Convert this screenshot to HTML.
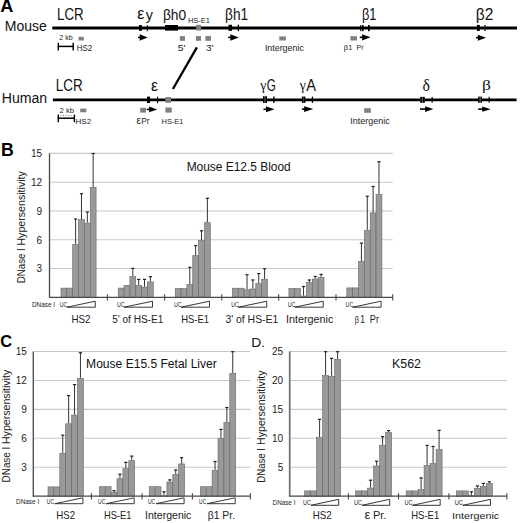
<!DOCTYPE html><html><head><meta charset="utf-8"><style>html,body{margin:0;padding:0;background:#fff;}svg{display:block;}text{font-family:"Liberation Sans",sans-serif;}</style></head><body>
<svg width="520" height="523" viewBox="0 0 520 523">
<rect width="520" height="523" fill="#fff"/>
<text x="0.15" y="12.40" font-size="18.41" font-weight="bold" fill="#000" textLength="13.04" lengthAdjust="spacingAndGlyphs">A</text>
<text x="4.68" y="31.30" font-size="14.49" fill="#111" textLength="42.18" lengthAdjust="spacingAndGlyphs">Mouse</text>
<line x1="52.30" y1="28.00" x2="517.00" y2="28.00" stroke="#000" stroke-width="2.8"/>
<text x="57.03" y="19.70" font-size="16.14" fill="#111" textLength="26.67" lengthAdjust="spacingAndGlyphs">LCR</text>
<text x="59.25" y="40.10" font-size="6.90" fill="#222" textLength="13.34" lengthAdjust="spacingAndGlyphs">2 kb</text>
<rect x="78.50" y="36.80" width="5.30" height="3.70" fill="#808080"/>
<line x1="57.70" y1="46.40" x2="73.80" y2="46.40" stroke="#000" stroke-width="1.5"/>
<line x1="58.30" y1="42.70" x2="58.30" y2="50.40" stroke="#000" stroke-width="1.4"/>
<line x1="73.20" y1="42.70" x2="73.20" y2="50.40" stroke="#000" stroke-width="1.4"/>
<text x="76.87" y="50.60" font-size="8.43" fill="#222" textLength="15.43" lengthAdjust="spacingAndGlyphs">HS2</text>
<text transform="translate(137.36,18.84) scale(0.15816,0.15693)" font-size="100" fill="#111">ε</text>
<text transform="translate(145.76,19.55) scale(0.14343,0.14674)" font-size="100" fill="#111">y</text>
<rect x="139.00" y="25.00" width="2.80" height="5.80" fill="#000"/>
<rect x="146.80" y="25.00" width="1.00" height="6.30" fill="#000"/>
<line x1="138.00" y1="37.50" x2="140.60" y2="37.50" stroke="#000" stroke-width="1.6"/>
<path d="M139.60,34.25 L147.70,37.50 L139.60,40.75 L139.90,37.50 Z" fill="#000"/>
<text x="162.93" y="19.60" font-size="13.93" fill="#111" textLength="23.28" lengthAdjust="spacingAndGlyphs">βh0</text>
<rect x="165.00" y="25.00" width="13.00" height="5.60" fill="#000"/>
<text x="187.90" y="22.50" font-size="7.14" fill="#222" textLength="22.04" lengthAdjust="spacingAndGlyphs">HS-E1</text>
<rect x="196.20" y="24.80" width="4.80" height="5.70" fill="#808080"/>
<rect x="179.80" y="36.10" width="5.20" height="4.70" fill="#808080"/>
<rect x="195.90" y="36.10" width="5.10" height="4.70" fill="#808080"/>
<rect x="205.40" y="36.10" width="5.60" height="4.70" fill="#808080"/>
<text x="177.78" y="50.50" font-size="8.70" fill="#222" textLength="7.76" lengthAdjust="spacingAndGlyphs">5'</text>
<text x="206.10" y="50.50" font-size="8.57" fill="#222" textLength="7.53" lengthAdjust="spacingAndGlyphs">3'</text>
<text x="225.05" y="19.60" font-size="15.59" fill="#111" textLength="23.00" lengthAdjust="spacingAndGlyphs">βh1</text>
<rect x="228.50" y="24.80" width="3.50" height="6.00" fill="#000"/>
<rect x="237.70" y="24.60" width="1.30" height="6.60" fill="#000"/>
<line x1="228.20" y1="37.40" x2="231.20" y2="37.40" stroke="#000" stroke-width="1.6"/>
<path d="M230.20,34.15 L238.90,37.40 L230.20,40.65 L230.50,37.40 Z" fill="#000"/>
<rect x="279.30" y="36.40" width="6.60" height="4.10" fill="#808080"/>
<text x="264.90" y="50.70" font-size="8.55" fill="#222" textLength="38.93" lengthAdjust="spacingAndGlyphs">Intergenic</text>
<text x="361.90" y="19.70" font-size="16.28" fill="#111" textLength="14.49" lengthAdjust="spacingAndGlyphs">β1</text>
<rect x="360.20" y="25.00" width="0.80" height="6.20" fill="#000"/>
<rect x="361.70" y="25.00" width="1.90" height="6.20" fill="#000"/>
<rect x="368.00" y="25.00" width="1.70" height="6.20" fill="#000"/>
<line x1="359.80" y1="37.30" x2="363.00" y2="37.30" stroke="#000" stroke-width="1.6"/>
<path d="M362.00,34.15 L370.50,37.30 L362.00,40.45 L362.30,37.30 Z" fill="#000"/>
<rect x="350.40" y="36.20" width="6.60" height="4.30" fill="#808080"/>
<text x="343.76" y="50.30" font-size="7.03" fill="#222" textLength="8.69" lengthAdjust="spacingAndGlyphs">β1</text>
<text x="356.43" y="50.30" font-size="6.67" fill="#222" textLength="7.11" lengthAdjust="spacingAndGlyphs">Pr</text>
<text x="475.71" y="19.70" font-size="15.86" fill="#111" textLength="17.59" lengthAdjust="spacingAndGlyphs">β2</text>
<rect x="476.90" y="24.90" width="2.90" height="6.00" fill="#000"/>
<rect x="484.30" y="24.90" width="1.40" height="6.10" fill="#222"/>
<line x1="476.00" y1="37.70" x2="478.70" y2="37.70" stroke="#000" stroke-width="1.6"/>
<path d="M477.70,34.65 L486.10,37.70 L477.70,40.75 L478.00,37.70 Z" fill="#000"/>
<line x1="196.90" y1="47.40" x2="172.90" y2="89.00" stroke="#000" stroke-width="2.3"/>
<text x="1.77" y="103.20" font-size="14.35" fill="#111" textLength="45.43" lengthAdjust="spacingAndGlyphs">Human</text>
<line x1="52.90" y1="99.80" x2="516.60" y2="99.80" stroke="#000" stroke-width="2.8"/>
<text x="55.82" y="90.70" font-size="15.86" fill="#111" textLength="26.89" lengthAdjust="spacingAndGlyphs">LCR</text>
<text x="59.62" y="112.50" font-size="6.90" fill="#222" textLength="14.49" lengthAdjust="spacingAndGlyphs">2 kb</text>
<rect x="80.20" y="108.60" width="6.10" height="3.70" fill="#808080"/>
<line x1="60.40" y1="115.50" x2="73.20" y2="115.50" stroke="#666" stroke-width="0.9" stroke-dasharray="1,1.6"/>
<line x1="57.70" y1="118.20" x2="75.00" y2="118.20" stroke="#000" stroke-width="1.5"/>
<line x1="58.30" y1="114.60" x2="58.30" y2="122.30" stroke="#000" stroke-width="1.4"/>
<line x1="74.40" y1="114.60" x2="74.40" y2="122.30" stroke="#000" stroke-width="1.4"/>
<text x="75.56" y="123.60" font-size="7.71" fill="#222" textLength="15.65" lengthAdjust="spacingAndGlyphs">HS2</text>
<text transform="translate(150.96,90.74) scale(0.15816,0.15693)" font-size="100" fill="#111">ε</text>
<rect x="147.00" y="96.60" width="3.00" height="6.40" fill="#000"/>
<rect x="157.00" y="96.70" width="1.10" height="6.50" fill="#000"/>
<rect x="165.40" y="97.00" width="5.60" height="5.80" fill="#808080"/>
<rect x="140.20" y="107.80" width="5.80" height="4.80" fill="#808080"/>
<rect x="165.40" y="107.50" width="6.40" height="5.10" fill="#808080"/>
<line x1="146.80" y1="109.40" x2="150.00" y2="109.40" stroke="#000" stroke-width="1.6"/>
<path d="M149.00,106.45 L157.30,109.40 L149.00,112.35 L149.30,109.40 Z" fill="#000"/>
<text transform="translate(136.56,123.89) scale(0.09949,0.10584)" font-size="100" fill="#222">ε</text>
<text x="141.34" y="123.90" font-size="8.26" fill="#222" textLength="8.22" lengthAdjust="spacingAndGlyphs">Pr</text>
<text x="161.50" y="123.80" font-size="8.00" fill="#222" textLength="21.93" lengthAdjust="spacingAndGlyphs">HS-E1</text>
<text transform="translate(260.21,90.47) scale(0.13810,0.15179)" font-size="100" style='font-family:"Liberation Serif", serif' fill="#111">γ</text>
<text transform="translate(266.82,90.73) scale(0.11639,0.16525)" font-size="100" fill="#111">G</text>
<rect x="263.00" y="96.50" width="4.00" height="6.30" fill="#555"/>
<rect x="263.00" y="96.30" width="1.40" height="6.60" fill="#000"/>
<rect x="265.50" y="96.30" width="1.50" height="6.60" fill="#000"/>
<rect x="273.20" y="96.40" width="1.40" height="6.50" fill="#000"/>
<line x1="263.50" y1="109.30" x2="266.90" y2="109.30" stroke="#000" stroke-width="1.6"/>
<path d="M265.90,106.25 L274.50,109.30 L265.90,112.35 L266.20,109.30 Z" fill="#000"/>
<text transform="translate(299.81,90.42) scale(0.13571,0.13988)" font-size="100" style='font-family:"Liberation Serif", serif' fill="#111">γ</text>
<text transform="translate(306.17,90.70) scale(0.14630,0.15843)" font-size="100" fill="#111">A</text>
<rect x="302.00" y="96.70" width="3.30" height="6.00" fill="#666"/>
<rect x="301.90" y="96.60" width="1.40" height="6.20" fill="#000"/>
<rect x="303.80" y="96.60" width="1.50" height="6.20" fill="#000"/>
<rect x="311.80" y="96.60" width="1.30" height="6.20" fill="#000"/>
<line x1="302.00" y1="109.10" x2="305.00" y2="109.10" stroke="#000" stroke-width="1.6"/>
<path d="M304.00,106.15 L313.30,109.10 L304.00,112.05 L304.30,109.10 Z" fill="#000"/>
<rect x="364.20" y="108.20" width="6.60" height="4.60" fill="#808080"/>
<text x="350.29" y="123.60" font-size="8.14" fill="#222" textLength="39.35" lengthAdjust="spacingAndGlyphs">Intergenic</text>
<text transform="translate(422.60,90.94) scale(0.15909,0.15656)" font-size="100" style='font-family:"Liberation Serif", serif' fill="#111">δ</text>
<rect x="420.30" y="96.90" width="4.40" height="5.80" fill="#666"/>
<rect x="420.30" y="96.90" width="1.60" height="5.80" fill="#000"/>
<rect x="422.90" y="96.90" width="1.80" height="5.80" fill="#000"/>
<rect x="431.60" y="96.90" width="1.10" height="5.80" fill="#000"/>
<line x1="420.00" y1="109.10" x2="426.00" y2="109.10" stroke="#000" stroke-width="1.6"/>
<path d="M425.00,106.30 L433.40,109.10 L425.00,111.90 L425.30,109.10 Z" fill="#000"/>
<text transform="translate(481.89,90.07) scale(0.17413,0.13740)" font-size="100" style='font-family:"Liberation Serif", serif' fill="#111">β</text>
<rect x="478.20" y="96.70" width="3.70" height="6.00" fill="#666"/>
<rect x="478.20" y="96.70" width="1.30" height="6.00" fill="#000"/>
<rect x="480.70" y="96.70" width="1.20" height="6.00" fill="#000"/>
<rect x="488.60" y="96.70" width="1.10" height="6.00" fill="#000"/>
<line x1="478.20" y1="109.15" x2="483.10" y2="109.15" stroke="#000" stroke-width="1.6"/>
<path d="M482.10,106.45 L490.70,109.15 L482.10,111.85 L482.40,109.15 Z" fill="#000"/>
<text x="0.95" y="156.00" font-size="17.54" font-weight="bold" fill="#000" textLength="12.79" lengthAdjust="spacingAndGlyphs">B</text>
<line x1="49.50" y1="268.52" x2="392.70" y2="268.52" stroke="#c8c8c8" stroke-width="1.1"/>
<line x1="49.50" y1="239.74" x2="392.70" y2="239.74" stroke="#c8c8c8" stroke-width="1.1"/>
<line x1="49.50" y1="210.96" x2="392.70" y2="210.96" stroke="#c8c8c8" stroke-width="1.1"/>
<line x1="49.50" y1="182.18" x2="392.70" y2="182.18" stroke="#c8c8c8" stroke-width="1.1"/>
<line x1="49.50" y1="153.40" x2="392.70" y2="153.40" stroke="#c8c8c8" stroke-width="1.1"/>
<rect x="61.00" y="288.10" width="5.85" height="9.20" fill="#999999" stroke="#666666" stroke-width="0.6"/>
<rect x="66.85" y="288.10" width="5.85" height="9.20" fill="#999999" stroke="#666666" stroke-width="0.6"/>
<rect x="72.70" y="244.40" width="5.85" height="52.90" fill="#999999" stroke="#666666" stroke-width="0.6"/>
<rect x="78.55" y="219.60" width="5.85" height="77.70" fill="#999999" stroke="#666666" stroke-width="0.6"/>
<rect x="84.40" y="223.10" width="5.85" height="74.20" fill="#999999" stroke="#666666" stroke-width="0.6"/>
<rect x="90.25" y="187.30" width="5.85" height="110.00" fill="#999999" stroke="#666666" stroke-width="0.6"/>
<line x1="75.62" y1="244.00" x2="75.62" y2="218.80" stroke="#333" stroke-width="1.0"/>
<line x1="74.03" y1="219.00" x2="77.22" y2="219.00" stroke="#222" stroke-width="1.2"/>
<line x1="81.47" y1="219.20" x2="81.47" y2="193.50" stroke="#333" stroke-width="1.0"/>
<line x1="79.88" y1="193.70" x2="83.07" y2="193.70" stroke="#222" stroke-width="1.2"/>
<line x1="87.33" y1="222.70" x2="87.33" y2="211.90" stroke="#333" stroke-width="1.0"/>
<line x1="85.73" y1="212.10" x2="88.92" y2="212.10" stroke="#222" stroke-width="1.2"/>
<line x1="93.17" y1="186.90" x2="93.17" y2="153.30" stroke="#333" stroke-width="1.0"/>
<line x1="91.58" y1="153.50" x2="94.77" y2="153.50" stroke="#222" stroke-width="1.2"/>
<rect x="118.20" y="288.10" width="5.85" height="9.20" fill="#999999" stroke="#666666" stroke-width="0.6"/>
<rect x="124.05" y="285.40" width="5.85" height="11.90" fill="#999999" stroke="#666666" stroke-width="0.6"/>
<rect x="129.90" y="276.60" width="5.85" height="20.70" fill="#999999" stroke="#666666" stroke-width="0.6"/>
<rect x="135.75" y="285.40" width="5.85" height="11.90" fill="#999999" stroke="#666666" stroke-width="0.6"/>
<rect x="141.60" y="287.00" width="5.85" height="10.30" fill="#999999" stroke="#666666" stroke-width="0.6"/>
<rect x="147.45" y="281.90" width="5.85" height="15.40" fill="#999999" stroke="#666666" stroke-width="0.6"/>
<line x1="132.83" y1="276.20" x2="132.83" y2="268.20" stroke="#333" stroke-width="1.0"/>
<line x1="131.23" y1="268.40" x2="134.43" y2="268.40" stroke="#222" stroke-width="1.2"/>
<line x1="138.68" y1="285.00" x2="138.68" y2="279.20" stroke="#333" stroke-width="1.0"/>
<line x1="137.08" y1="279.40" x2="140.28" y2="279.40" stroke="#222" stroke-width="1.2"/>
<line x1="144.53" y1="286.60" x2="144.53" y2="279.20" stroke="#333" stroke-width="1.0"/>
<line x1="142.93" y1="279.40" x2="146.12" y2="279.40" stroke="#222" stroke-width="1.2"/>
<line x1="150.38" y1="281.50" x2="150.38" y2="276.50" stroke="#333" stroke-width="1.0"/>
<line x1="148.78" y1="276.70" x2="151.97" y2="276.70" stroke="#222" stroke-width="1.2"/>
<rect x="175.20" y="288.60" width="5.85" height="8.70" fill="#999999" stroke="#666666" stroke-width="0.6"/>
<rect x="181.05" y="288.60" width="5.85" height="8.70" fill="#999999" stroke="#666666" stroke-width="0.6"/>
<rect x="186.90" y="284.40" width="5.85" height="12.90" fill="#999999" stroke="#666666" stroke-width="0.6"/>
<rect x="192.75" y="255.60" width="5.85" height="41.70" fill="#999999" stroke="#666666" stroke-width="0.6"/>
<rect x="198.60" y="240.60" width="5.85" height="56.70" fill="#999999" stroke="#666666" stroke-width="0.6"/>
<rect x="204.45" y="222.70" width="5.85" height="74.60" fill="#999999" stroke="#666666" stroke-width="0.6"/>
<line x1="189.82" y1="284.00" x2="189.82" y2="267.10" stroke="#333" stroke-width="1.0"/>
<line x1="188.22" y1="267.30" x2="191.42" y2="267.30" stroke="#222" stroke-width="1.2"/>
<line x1="195.68" y1="255.20" x2="195.68" y2="245.50" stroke="#333" stroke-width="1.0"/>
<line x1="194.08" y1="245.70" x2="197.28" y2="245.70" stroke="#222" stroke-width="1.2"/>
<line x1="201.53" y1="240.20" x2="201.53" y2="230.60" stroke="#333" stroke-width="1.0"/>
<line x1="199.93" y1="230.80" x2="203.12" y2="230.80" stroke="#222" stroke-width="1.2"/>
<line x1="207.38" y1="222.30" x2="207.38" y2="198.10" stroke="#333" stroke-width="1.0"/>
<line x1="205.78" y1="198.30" x2="208.97" y2="198.30" stroke="#222" stroke-width="1.2"/>
<rect x="232.40" y="288.20" width="5.85" height="9.10" fill="#999999" stroke="#666666" stroke-width="0.6"/>
<rect x="238.25" y="288.20" width="5.85" height="9.10" fill="#999999" stroke="#666666" stroke-width="0.6"/>
<rect x="244.10" y="289.80" width="5.85" height="7.50" fill="#999999" stroke="#666666" stroke-width="0.6"/>
<rect x="249.95" y="289.00" width="5.85" height="8.30" fill="#999999" stroke="#666666" stroke-width="0.6"/>
<rect x="255.80" y="283.60" width="5.85" height="13.70" fill="#999999" stroke="#666666" stroke-width="0.6"/>
<rect x="261.65" y="279.20" width="5.85" height="18.10" fill="#999999" stroke="#666666" stroke-width="0.6"/>
<line x1="247.03" y1="289.40" x2="247.03" y2="274.50" stroke="#333" stroke-width="1.0"/>
<line x1="245.43" y1="274.70" x2="248.62" y2="274.70" stroke="#222" stroke-width="1.2"/>
<line x1="252.88" y1="288.60" x2="252.88" y2="279.80" stroke="#333" stroke-width="1.0"/>
<line x1="251.28" y1="280.00" x2="254.47" y2="280.00" stroke="#222" stroke-width="1.2"/>
<line x1="258.73" y1="283.20" x2="258.73" y2="273.40" stroke="#333" stroke-width="1.0"/>
<line x1="257.12" y1="273.60" x2="260.33" y2="273.60" stroke="#222" stroke-width="1.2"/>
<line x1="264.57" y1="278.80" x2="264.57" y2="268.50" stroke="#333" stroke-width="1.0"/>
<line x1="262.97" y1="268.70" x2="266.18" y2="268.70" stroke="#222" stroke-width="1.2"/>
<rect x="288.90" y="288.50" width="5.85" height="8.80" fill="#999999" stroke="#666666" stroke-width="0.6"/>
<rect x="294.75" y="288.50" width="5.85" height="8.80" fill="#999999" stroke="#666666" stroke-width="0.6"/>
<rect x="300.60" y="296.00" width="5.85" height="1.30" fill="#999999" stroke="#666666" stroke-width="0.6"/>
<rect x="306.45" y="282.70" width="5.85" height="14.60" fill="#999999" stroke="#666666" stroke-width="0.6"/>
<rect x="312.30" y="279.00" width="5.85" height="18.30" fill="#999999" stroke="#666666" stroke-width="0.6"/>
<rect x="318.15" y="277.50" width="5.85" height="19.80" fill="#999999" stroke="#666666" stroke-width="0.6"/>
<line x1="303.52" y1="295.60" x2="303.52" y2="286.30" stroke="#333" stroke-width="1.0"/>
<line x1="301.92" y1="286.50" x2="305.12" y2="286.50" stroke="#222" stroke-width="1.2"/>
<line x1="309.38" y1="282.30" x2="309.38" y2="279.80" stroke="#333" stroke-width="1.0"/>
<line x1="307.77" y1="280.00" x2="310.98" y2="280.00" stroke="#222" stroke-width="1.2"/>
<line x1="315.22" y1="278.60" x2="315.22" y2="276.30" stroke="#333" stroke-width="1.0"/>
<line x1="313.62" y1="276.50" x2="316.82" y2="276.50" stroke="#222" stroke-width="1.2"/>
<line x1="321.07" y1="277.10" x2="321.07" y2="274.20" stroke="#333" stroke-width="1.0"/>
<line x1="319.47" y1="274.40" x2="322.68" y2="274.40" stroke="#222" stroke-width="1.2"/>
<rect x="346.80" y="287.90" width="5.85" height="9.40" fill="#999999" stroke="#666666" stroke-width="0.6"/>
<rect x="352.65" y="287.90" width="5.85" height="9.40" fill="#999999" stroke="#666666" stroke-width="0.6"/>
<rect x="358.50" y="261.40" width="5.85" height="35.90" fill="#999999" stroke="#666666" stroke-width="0.6"/>
<rect x="364.35" y="230.20" width="5.85" height="67.10" fill="#999999" stroke="#666666" stroke-width="0.6"/>
<rect x="370.20" y="212.90" width="5.85" height="84.40" fill="#999999" stroke="#666666" stroke-width="0.6"/>
<rect x="376.05" y="194.40" width="5.85" height="102.90" fill="#999999" stroke="#666666" stroke-width="0.6"/>
<line x1="361.43" y1="261.00" x2="361.43" y2="242.90" stroke="#333" stroke-width="1.0"/>
<line x1="359.82" y1="243.10" x2="363.03" y2="243.10" stroke="#222" stroke-width="1.2"/>
<line x1="367.28" y1="229.80" x2="367.28" y2="196.10" stroke="#333" stroke-width="1.0"/>
<line x1="365.68" y1="196.30" x2="368.88" y2="196.30" stroke="#222" stroke-width="1.2"/>
<line x1="373.12" y1="212.50" x2="373.12" y2="186.30" stroke="#333" stroke-width="1.0"/>
<line x1="371.52" y1="186.50" x2="374.73" y2="186.50" stroke="#222" stroke-width="1.2"/>
<line x1="378.98" y1="194.00" x2="378.98" y2="161.50" stroke="#333" stroke-width="1.0"/>
<line x1="377.38" y1="161.70" x2="380.58" y2="161.70" stroke="#222" stroke-width="1.2"/>
<line x1="49.50" y1="153.40" x2="49.50" y2="297.80" stroke="#4a4a4a" stroke-width="1.3"/>
<line x1="49.00" y1="297.30" x2="392.70" y2="297.30" stroke="#484848" stroke-width="1.2"/>
<line x1="107.40" y1="294.30" x2="107.40" y2="300.50" stroke="#484848" stroke-width="1.1"/>
<line x1="164.60" y1="294.30" x2="164.60" y2="300.50" stroke="#484848" stroke-width="1.1"/>
<line x1="221.80" y1="294.30" x2="221.80" y2="300.50" stroke="#484848" stroke-width="1.1"/>
<line x1="278.70" y1="294.30" x2="278.70" y2="300.50" stroke="#484848" stroke-width="1.1"/>
<line x1="336.00" y1="294.30" x2="336.00" y2="300.50" stroke="#484848" stroke-width="1.1"/>
<line x1="392.70" y1="294.30" x2="392.70" y2="300.50" stroke="#484848" stroke-width="1.1"/>
<text x="42.0" y="272.4" font-size="10" fill="#222" text-anchor="end">3</text>
<text x="42.0" y="243.6" font-size="10" fill="#222" text-anchor="end">6</text>
<text x="42.0" y="214.9" font-size="10" fill="#222" text-anchor="end">9</text>
<text x="42.0" y="186.1" font-size="10" fill="#222" text-anchor="end">12</text>
<text x="42.0" y="157.3" font-size="10" fill="#222" text-anchor="end">15</text>
<text x="71.42" y="322.70" font-size="10.90" fill="#222" textLength="19.08" lengthAdjust="spacingAndGlyphs">HS2</text>
<text x="112.20" y="322.50" font-size="10.61" fill="#222" textLength="51.08" lengthAdjust="spacingAndGlyphs">5' of HS-E1</text>
<text x="181.25" y="322.70" font-size="10.76" fill="#222" textLength="27.68" lengthAdjust="spacingAndGlyphs">HS-E1</text>
<text x="225.38" y="322.70" font-size="10.76" fill="#222" textLength="52.91" lengthAdjust="spacingAndGlyphs">3' of HS-E1</text>
<text x="285.93" y="322.70" font-size="10.76" fill="#222" textLength="47.46" lengthAdjust="spacingAndGlyphs">Intergenic</text>
<text x="360.26" y="322.80" font-size="10.47" fill="#222" textLength="4.73" lengthAdjust="spacingAndGlyphs">1</text>
<text x="369.87" y="322.80" font-size="10.47" fill="#222" textLength="9.11" lengthAdjust="spacingAndGlyphs">Pr</text>
<text x="31.9" y="306.9" font-size="6.5" fill="#222" textLength="23.1" lengthAdjust="spacingAndGlyphs">DNase I</text>
<text x="59.8" y="306.9" font-size="6.5" fill="#222" textLength="7.6" lengthAdjust="spacingAndGlyphs">UC</text>
<path d="M66.90,307.20 L95.30,301.20 L95.30,307.20 Z" fill="none" stroke="#222" stroke-width="0.9"/>
<text x="117.0" y="306.9" font-size="6.5" fill="#222" textLength="7.6" lengthAdjust="spacingAndGlyphs">UC</text>
<path d="M124.10,307.20 L152.50,301.20 L152.50,307.20 Z" fill="none" stroke="#222" stroke-width="0.9"/>
<text x="174.0" y="306.9" font-size="6.5" fill="#222" textLength="7.6" lengthAdjust="spacingAndGlyphs">UC</text>
<path d="M181.10,307.20 L209.50,301.20 L209.50,307.20 Z" fill="none" stroke="#222" stroke-width="0.9"/>
<text x="231.2" y="306.9" font-size="6.5" fill="#222" textLength="7.6" lengthAdjust="spacingAndGlyphs">UC</text>
<path d="M238.30,307.20 L266.70,301.20 L266.70,307.20 Z" fill="none" stroke="#222" stroke-width="0.9"/>
<text x="287.7" y="306.9" font-size="6.5" fill="#222" textLength="7.6" lengthAdjust="spacingAndGlyphs">UC</text>
<path d="M294.80,307.20 L323.20,301.20 L323.20,307.20 Z" fill="none" stroke="#222" stroke-width="0.9"/>
<text x="345.6" y="306.9" font-size="6.5" fill="#222" textLength="7.6" lengthAdjust="spacingAndGlyphs">UC</text>
<path d="M352.70,307.20 L381.10,301.20 L381.10,307.20 Z" fill="none" stroke="#222" stroke-width="0.9"/>
<text x="186.7" y="171.1" font-size="12" fill="#111" textLength="104.0" lengthAdjust="spacingAndGlyphs">Mouse E12.5 Blood</text>
<text transform="translate(25.10,283.28) rotate(-90)" font-size="10.47" fill="#222" textLength="35.07" lengthAdjust="spacingAndGlyphs">DNase I</text>
<text transform="translate(25.00,245.55) rotate(-90)" font-size="10.47" fill="#222" textLength="74.37" lengthAdjust="spacingAndGlyphs">Hypersensitivity</text>
<text transform="translate(354.70,322.96) scale(0.07281,0.08360)" font-size="100" fill="#222">β</text>
<text x="0.35" y="346.90" font-size="17.14" font-weight="bold" fill="#000" textLength="11.80" lengthAdjust="spacingAndGlyphs">C</text>
<line x1="33.30" y1="467.26" x2="250.40" y2="467.26" stroke="#c8c8c8" stroke-width="1.1"/>
<line x1="33.30" y1="438.32" x2="250.40" y2="438.32" stroke="#c8c8c8" stroke-width="1.1"/>
<line x1="33.30" y1="409.38" x2="250.40" y2="409.38" stroke="#c8c8c8" stroke-width="1.1"/>
<line x1="33.30" y1="380.44" x2="250.40" y2="380.44" stroke="#c8c8c8" stroke-width="1.1"/>
<line x1="33.30" y1="351.50" x2="250.40" y2="351.50" stroke="#c8c8c8" stroke-width="1.1"/>
<rect x="48.00" y="486.90" width="5.90" height="9.30" fill="#999999" stroke="#666666" stroke-width="0.6"/>
<rect x="53.90" y="486.90" width="5.90" height="9.30" fill="#999999" stroke="#666666" stroke-width="0.6"/>
<rect x="59.80" y="453.40" width="5.90" height="42.80" fill="#999999" stroke="#666666" stroke-width="0.6"/>
<rect x="65.70" y="423.80" width="5.90" height="72.40" fill="#999999" stroke="#666666" stroke-width="0.6"/>
<rect x="71.60" y="415.00" width="5.90" height="81.20" fill="#999999" stroke="#666666" stroke-width="0.6"/>
<rect x="77.50" y="378.30" width="5.90" height="117.90" fill="#999999" stroke="#666666" stroke-width="0.6"/>
<line x1="62.75" y1="453.00" x2="62.75" y2="435.00" stroke="#333" stroke-width="1.0"/>
<line x1="61.15" y1="435.20" x2="64.35" y2="435.20" stroke="#222" stroke-width="1.2"/>
<line x1="68.65" y1="423.40" x2="68.65" y2="395.40" stroke="#333" stroke-width="1.0"/>
<line x1="67.05" y1="395.60" x2="70.25" y2="395.60" stroke="#222" stroke-width="1.2"/>
<line x1="74.55" y1="414.60" x2="74.55" y2="384.40" stroke="#333" stroke-width="1.0"/>
<line x1="72.95" y1="384.60" x2="76.15" y2="384.60" stroke="#222" stroke-width="1.2"/>
<line x1="80.45" y1="377.90" x2="80.45" y2="352.50" stroke="#333" stroke-width="1.0"/>
<line x1="78.85" y1="352.70" x2="82.05" y2="352.70" stroke="#222" stroke-width="1.2"/>
<rect x="99.30" y="486.70" width="5.90" height="9.50" fill="#999999" stroke="#666666" stroke-width="0.6"/>
<rect x="105.20" y="486.70" width="5.90" height="9.50" fill="#999999" stroke="#666666" stroke-width="0.6"/>
<rect x="111.10" y="492.40" width="5.90" height="3.80" fill="#999999" stroke="#666666" stroke-width="0.6"/>
<rect x="117.00" y="478.80" width="5.90" height="17.40" fill="#999999" stroke="#666666" stroke-width="0.6"/>
<rect x="122.90" y="468.70" width="5.90" height="27.50" fill="#999999" stroke="#666666" stroke-width="0.6"/>
<rect x="128.80" y="460.70" width="5.90" height="35.50" fill="#999999" stroke="#666666" stroke-width="0.6"/>
<line x1="114.05" y1="492.00" x2="114.05" y2="490.50" stroke="#333" stroke-width="1.0"/>
<line x1="112.45" y1="490.70" x2="115.65" y2="490.70" stroke="#222" stroke-width="1.2"/>
<line x1="119.95" y1="478.40" x2="119.95" y2="474.10" stroke="#333" stroke-width="1.0"/>
<line x1="118.35" y1="474.30" x2="121.55" y2="474.30" stroke="#222" stroke-width="1.2"/>
<line x1="125.85" y1="468.30" x2="125.85" y2="462.20" stroke="#333" stroke-width="1.0"/>
<line x1="124.25" y1="462.40" x2="127.45" y2="462.40" stroke="#222" stroke-width="1.2"/>
<line x1="131.75" y1="460.30" x2="131.75" y2="455.90" stroke="#333" stroke-width="1.0"/>
<line x1="130.15" y1="456.10" x2="133.35" y2="456.10" stroke="#222" stroke-width="1.2"/>
<rect x="149.20" y="486.70" width="5.90" height="9.50" fill="#999999" stroke="#666666" stroke-width="0.6"/>
<rect x="155.10" y="486.70" width="5.90" height="9.50" fill="#999999" stroke="#666666" stroke-width="0.6"/>
<rect x="161.00" y="495.90" width="5.90" height="0.30" fill="#999999" stroke="#666666" stroke-width="0.6"/>
<rect x="166.90" y="482.00" width="5.90" height="14.20" fill="#999999" stroke="#666666" stroke-width="0.6"/>
<rect x="172.80" y="474.50" width="5.90" height="21.70" fill="#999999" stroke="#666666" stroke-width="0.6"/>
<rect x="178.70" y="463.90" width="5.90" height="32.30" fill="#999999" stroke="#666666" stroke-width="0.6"/>
<line x1="163.95" y1="495.50" x2="163.95" y2="491.60" stroke="#333" stroke-width="1.0"/>
<line x1="162.35" y1="491.80" x2="165.55" y2="491.80" stroke="#222" stroke-width="1.2"/>
<line x1="169.85" y1="481.60" x2="169.85" y2="479.70" stroke="#333" stroke-width="1.0"/>
<line x1="168.25" y1="479.90" x2="171.45" y2="479.90" stroke="#222" stroke-width="1.2"/>
<line x1="175.75" y1="474.10" x2="175.75" y2="469.80" stroke="#333" stroke-width="1.0"/>
<line x1="174.15" y1="470.00" x2="177.35" y2="470.00" stroke="#222" stroke-width="1.2"/>
<line x1="181.65" y1="463.50" x2="181.65" y2="457.50" stroke="#333" stroke-width="1.0"/>
<line x1="180.05" y1="457.70" x2="183.25" y2="457.70" stroke="#222" stroke-width="1.2"/>
<rect x="200.30" y="486.70" width="5.90" height="9.50" fill="#999999" stroke="#666666" stroke-width="0.6"/>
<rect x="206.20" y="486.70" width="5.90" height="9.50" fill="#999999" stroke="#666666" stroke-width="0.6"/>
<rect x="212.10" y="470.20" width="5.90" height="26.00" fill="#999999" stroke="#666666" stroke-width="0.6"/>
<rect x="218.00" y="438.30" width="5.90" height="57.90" fill="#999999" stroke="#666666" stroke-width="0.6"/>
<rect x="223.90" y="422.50" width="5.90" height="73.70" fill="#999999" stroke="#666666" stroke-width="0.6"/>
<rect x="229.80" y="373.30" width="5.90" height="122.90" fill="#999999" stroke="#666666" stroke-width="0.6"/>
<line x1="215.05" y1="469.80" x2="215.05" y2="461.30" stroke="#333" stroke-width="1.0"/>
<line x1="213.45" y1="461.50" x2="216.65" y2="461.50" stroke="#222" stroke-width="1.2"/>
<line x1="220.95" y1="437.90" x2="220.95" y2="429.20" stroke="#333" stroke-width="1.0"/>
<line x1="219.35" y1="429.40" x2="222.55" y2="429.40" stroke="#222" stroke-width="1.2"/>
<line x1="226.85" y1="422.10" x2="226.85" y2="407.30" stroke="#333" stroke-width="1.0"/>
<line x1="225.25" y1="407.50" x2="228.45" y2="407.50" stroke="#222" stroke-width="1.2"/>
<line x1="232.75" y1="372.90" x2="232.75" y2="351.50" stroke="#333" stroke-width="1.0"/>
<line x1="231.15" y1="351.70" x2="234.35" y2="351.70" stroke="#222" stroke-width="1.2"/>
<line x1="33.30" y1="351.50" x2="33.30" y2="496.70" stroke="#444" stroke-width="1.3"/>
<line x1="32.80" y1="496.20" x2="250.40" y2="496.20" stroke="#484848" stroke-width="1.2"/>
<line x1="91.40" y1="493.20" x2="91.40" y2="499.40" stroke="#484848" stroke-width="1.1"/>
<line x1="142.00" y1="493.20" x2="142.00" y2="499.40" stroke="#484848" stroke-width="1.1"/>
<line x1="192.40" y1="493.20" x2="192.40" y2="499.40" stroke="#484848" stroke-width="1.1"/>
<line x1="250.40" y1="493.20" x2="250.40" y2="499.40" stroke="#484848" stroke-width="1.1"/>
<text x="26.8" y="471.2" font-size="10" fill="#222" text-anchor="end">3</text>
<text x="26.8" y="442.2" font-size="10" fill="#222" text-anchor="end">6</text>
<text x="26.8" y="413.3" font-size="10" fill="#222" text-anchor="end">9</text>
<text x="26.8" y="384.3" font-size="10" fill="#222" text-anchor="end">12</text>
<text x="26.8" y="355.4" font-size="10" fill="#222" text-anchor="end">15</text>
<text x="56.22" y="518.60" font-size="10.76" fill="#222" textLength="18.86" lengthAdjust="spacingAndGlyphs">HS2</text>
<text x="104.06" y="518.60" font-size="10.47" fill="#222" textLength="27.37" lengthAdjust="spacingAndGlyphs">HS-E1</text>
<text x="145.05" y="518.60" font-size="10.47" fill="#222" textLength="46.33" lengthAdjust="spacingAndGlyphs">Intergenic</text>
<text x="207.67" y="518.60" font-size="10.47" fill="#222" textLength="27.49" lengthAdjust="spacingAndGlyphs">β1 Pr.</text>
<text x="16.0" y="503.8" font-size="6.5" fill="#222" textLength="23.2" lengthAdjust="spacingAndGlyphs">DNase I</text>
<text x="46.8" y="503.8" font-size="6.5" fill="#222" textLength="7.2" lengthAdjust="spacingAndGlyphs">UC</text>
<path d="M54.80,503.70 L82.90,497.80 L82.90,503.70 Z" fill="none" stroke="#222" stroke-width="0.9"/>
<text x="98.1" y="503.8" font-size="6.5" fill="#222" textLength="7.2" lengthAdjust="spacingAndGlyphs">UC</text>
<path d="M106.10,503.70 L134.20,497.80 L134.20,503.70 Z" fill="none" stroke="#222" stroke-width="0.9"/>
<text x="148.0" y="503.8" font-size="6.5" fill="#222" textLength="7.2" lengthAdjust="spacingAndGlyphs">UC</text>
<path d="M156.00,503.70 L184.10,497.80 L184.10,503.70 Z" fill="none" stroke="#222" stroke-width="0.9"/>
<text x="199.1" y="503.8" font-size="6.5" fill="#222" textLength="7.2" lengthAdjust="spacingAndGlyphs">UC</text>
<path d="M207.10,503.70 L235.20,497.80 L235.20,503.70 Z" fill="none" stroke="#222" stroke-width="0.9"/>
<text x="86.1" y="368.2" font-size="12" fill="#111" textLength="130.7" lengthAdjust="spacingAndGlyphs">Mouse E15.5 Fetal Liver</text>
<text transform="translate(9.70,482.39) rotate(-90)" font-size="10.76" fill="#222" textLength="35.70" lengthAdjust="spacingAndGlyphs">DNase I</text>
<text transform="translate(9.70,444.05) rotate(-90)" font-size="10.76" fill="#222" textLength="74.27" lengthAdjust="spacingAndGlyphs">Hypersensitivity</text>
<text transform="translate(364.55,518.78) scale(0.13265,0.12044)" font-size="100" fill="#222">ε</text>
<text x="251.29" y="346.70" font-size="13.62" fill="#111" textLength="13.82" lengthAdjust="spacingAndGlyphs">D.</text>
<line x1="289.70" y1="467.26" x2="506.90" y2="467.26" stroke="#c8c8c8" stroke-width="1.1"/>
<line x1="289.70" y1="438.32" x2="506.90" y2="438.32" stroke="#c8c8c8" stroke-width="1.1"/>
<line x1="289.70" y1="409.38" x2="506.90" y2="409.38" stroke="#c8c8c8" stroke-width="1.1"/>
<line x1="289.70" y1="380.44" x2="506.90" y2="380.44" stroke="#c8c8c8" stroke-width="1.1"/>
<line x1="289.70" y1="351.50" x2="506.90" y2="351.50" stroke="#c8c8c8" stroke-width="1.1"/>
<rect x="304.60" y="490.90" width="6.00" height="5.30" fill="#999999" stroke="#666666" stroke-width="0.6"/>
<rect x="310.60" y="490.90" width="6.00" height="5.30" fill="#999999" stroke="#666666" stroke-width="0.6"/>
<rect x="316.60" y="437.60" width="6.00" height="58.60" fill="#999999" stroke="#666666" stroke-width="0.6"/>
<rect x="322.60" y="375.60" width="6.00" height="120.60" fill="#999999" stroke="#666666" stroke-width="0.6"/>
<rect x="328.60" y="376.40" width="6.00" height="119.80" fill="#999999" stroke="#666666" stroke-width="0.6"/>
<rect x="334.60" y="359.40" width="6.00" height="136.80" fill="#999999" stroke="#666666" stroke-width="0.6"/>
<line x1="319.60" y1="437.20" x2="319.60" y2="419.20" stroke="#333" stroke-width="1.0"/>
<line x1="318.00" y1="419.40" x2="321.20" y2="419.40" stroke="#222" stroke-width="1.2"/>
<line x1="325.60" y1="375.20" x2="325.60" y2="351.50" stroke="#333" stroke-width="1.0"/>
<line x1="324.00" y1="351.70" x2="327.20" y2="351.70" stroke="#222" stroke-width="1.2"/>
<line x1="331.60" y1="376.00" x2="331.60" y2="358.20" stroke="#333" stroke-width="1.0"/>
<line x1="330.00" y1="358.40" x2="333.20" y2="358.40" stroke="#222" stroke-width="1.2"/>
<line x1="337.60" y1="359.00" x2="337.60" y2="351.50" stroke="#333" stroke-width="1.0"/>
<line x1="336.00" y1="351.70" x2="339.20" y2="351.70" stroke="#222" stroke-width="1.2"/>
<rect x="355.60" y="490.90" width="6.00" height="5.30" fill="#999999" stroke="#666666" stroke-width="0.6"/>
<rect x="361.60" y="490.90" width="6.00" height="5.30" fill="#999999" stroke="#666666" stroke-width="0.6"/>
<rect x="367.60" y="488.10" width="6.00" height="8.10" fill="#999999" stroke="#666666" stroke-width="0.6"/>
<rect x="373.60" y="466.00" width="6.00" height="30.20" fill="#999999" stroke="#666666" stroke-width="0.6"/>
<rect x="379.60" y="445.20" width="6.00" height="51.00" fill="#999999" stroke="#666666" stroke-width="0.6"/>
<rect x="385.60" y="432.50" width="6.00" height="63.70" fill="#999999" stroke="#666666" stroke-width="0.6"/>
<line x1="370.60" y1="487.70" x2="370.60" y2="480.00" stroke="#333" stroke-width="1.0"/>
<line x1="369.00" y1="480.20" x2="372.20" y2="480.20" stroke="#222" stroke-width="1.2"/>
<line x1="376.60" y1="465.60" x2="376.60" y2="461.00" stroke="#333" stroke-width="1.0"/>
<line x1="375.00" y1="461.20" x2="378.20" y2="461.20" stroke="#222" stroke-width="1.2"/>
<line x1="382.60" y1="444.80" x2="382.60" y2="436.40" stroke="#333" stroke-width="1.0"/>
<line x1="381.00" y1="436.60" x2="384.20" y2="436.60" stroke="#222" stroke-width="1.2"/>
<line x1="388.60" y1="432.10" x2="388.60" y2="430.40" stroke="#333" stroke-width="1.0"/>
<line x1="387.00" y1="430.60" x2="390.20" y2="430.60" stroke="#222" stroke-width="1.2"/>
<rect x="406.10" y="490.90" width="6.00" height="5.30" fill="#999999" stroke="#666666" stroke-width="0.6"/>
<rect x="412.10" y="490.90" width="6.00" height="5.30" fill="#999999" stroke="#666666" stroke-width="0.6"/>
<rect x="418.10" y="489.60" width="6.00" height="6.60" fill="#999999" stroke="#666666" stroke-width="0.6"/>
<rect x="424.10" y="465.50" width="6.00" height="30.70" fill="#999999" stroke="#666666" stroke-width="0.6"/>
<rect x="430.10" y="463.50" width="6.00" height="32.70" fill="#999999" stroke="#666666" stroke-width="0.6"/>
<rect x="436.10" y="449.60" width="6.00" height="46.60" fill="#999999" stroke="#666666" stroke-width="0.6"/>
<line x1="421.10" y1="489.20" x2="421.10" y2="477.70" stroke="#333" stroke-width="1.0"/>
<line x1="419.50" y1="477.90" x2="422.70" y2="477.90" stroke="#222" stroke-width="1.2"/>
<line x1="427.10" y1="465.10" x2="427.10" y2="445.20" stroke="#333" stroke-width="1.0"/>
<line x1="425.50" y1="445.40" x2="428.70" y2="445.40" stroke="#222" stroke-width="1.2"/>
<line x1="433.10" y1="463.10" x2="433.10" y2="446.30" stroke="#333" stroke-width="1.0"/>
<line x1="431.50" y1="446.50" x2="434.70" y2="446.50" stroke="#222" stroke-width="1.2"/>
<line x1="439.10" y1="449.20" x2="439.10" y2="430.20" stroke="#333" stroke-width="1.0"/>
<line x1="437.50" y1="430.40" x2="440.70" y2="430.40" stroke="#222" stroke-width="1.2"/>
<rect x="456.40" y="490.90" width="6.00" height="5.30" fill="#999999" stroke="#666666" stroke-width="0.6"/>
<rect x="462.40" y="490.90" width="6.00" height="5.30" fill="#999999" stroke="#666666" stroke-width="0.6"/>
<rect x="468.40" y="495.60" width="6.00" height="0.60" fill="#999999" stroke="#666666" stroke-width="0.6"/>
<rect x="474.40" y="488.30" width="6.00" height="7.90" fill="#999999" stroke="#666666" stroke-width="0.6"/>
<rect x="480.40" y="486.40" width="6.00" height="9.80" fill="#999999" stroke="#666666" stroke-width="0.6"/>
<rect x="486.40" y="483.60" width="6.00" height="12.60" fill="#999999" stroke="#666666" stroke-width="0.6"/>
<line x1="471.40" y1="495.20" x2="471.40" y2="491.60" stroke="#333" stroke-width="1.0"/>
<line x1="469.80" y1="491.80" x2="473.00" y2="491.80" stroke="#222" stroke-width="1.2"/>
<line x1="477.40" y1="487.90" x2="477.40" y2="485.70" stroke="#333" stroke-width="1.0"/>
<line x1="475.80" y1="485.90" x2="479.00" y2="485.90" stroke="#222" stroke-width="1.2"/>
<line x1="483.40" y1="486.00" x2="483.40" y2="483.20" stroke="#333" stroke-width="1.0"/>
<line x1="481.80" y1="483.40" x2="485.00" y2="483.40" stroke="#222" stroke-width="1.2"/>
<line x1="489.40" y1="483.20" x2="489.40" y2="481.60" stroke="#333" stroke-width="1.0"/>
<line x1="487.80" y1="481.80" x2="491.00" y2="481.80" stroke="#222" stroke-width="1.2"/>
<line x1="289.70" y1="351.50" x2="289.70" y2="496.70" stroke="#6e6e6e" stroke-width="1.7"/>
<line x1="289.20" y1="496.20" x2="506.90" y2="496.20" stroke="#484848" stroke-width="1.2"/>
<line x1="348.40" y1="493.20" x2="348.40" y2="499.40" stroke="#484848" stroke-width="1.1"/>
<line x1="398.50" y1="493.20" x2="398.50" y2="499.40" stroke="#484848" stroke-width="1.1"/>
<line x1="448.90" y1="493.20" x2="448.90" y2="499.40" stroke="#484848" stroke-width="1.1"/>
<line x1="506.90" y1="493.20" x2="506.90" y2="499.40" stroke="#484848" stroke-width="1.1"/>
<text x="283.2" y="471.2" font-size="10" fill="#222" text-anchor="end">5</text>
<text x="283.2" y="442.2" font-size="10" fill="#222" text-anchor="end">10</text>
<text x="283.2" y="413.3" font-size="10" fill="#222" text-anchor="end">15</text>
<text x="283.2" y="384.3" font-size="10" fill="#222" text-anchor="end">20</text>
<text x="283.2" y="355.4" font-size="10" fill="#222" text-anchor="end">25</text>
<text x="312.72" y="519.00" font-size="10.90" fill="#222" textLength="18.97" lengthAdjust="spacingAndGlyphs">HS2</text>
<text x="372.92" y="518.80" font-size="10.03" fill="#222" textLength="13.51" lengthAdjust="spacingAndGlyphs">Pr.</text>
<text x="411.24" y="519.00" font-size="10.47" fill="#222" textLength="27.99" lengthAdjust="spacingAndGlyphs">HS-E1</text>
<text x="451.93" y="518.80" font-size="9.59" fill="#222" textLength="47.36" lengthAdjust="spacingAndGlyphs">Intergenic</text>
<text x="272.6" y="505.1" font-size="6.5" fill="#222" textLength="22.8" lengthAdjust="spacingAndGlyphs">DNase I</text>
<text x="303.0" y="505.1" font-size="6.5" fill="#222" textLength="8.1" lengthAdjust="spacingAndGlyphs">UC</text>
<path d="M311.00,505.30 L338.70,499.30 L338.70,505.30 Z" fill="none" stroke="#222" stroke-width="0.9"/>
<text x="354.0" y="505.1" font-size="6.5" fill="#222" textLength="8.1" lengthAdjust="spacingAndGlyphs">UC</text>
<path d="M362.00,505.30 L389.70,499.30 L389.70,505.30 Z" fill="none" stroke="#222" stroke-width="0.9"/>
<text x="404.5" y="505.1" font-size="6.5" fill="#222" textLength="8.1" lengthAdjust="spacingAndGlyphs">UC</text>
<path d="M412.50,505.30 L440.20,499.30 L440.20,505.30 Z" fill="none" stroke="#222" stroke-width="0.9"/>
<text x="454.8" y="505.1" font-size="6.5" fill="#222" textLength="8.1" lengthAdjust="spacingAndGlyphs">UC</text>
<path d="M462.80,505.30 L490.50,499.30 L490.50,505.30 Z" fill="none" stroke="#222" stroke-width="0.9"/>
<text x="392.0" y="368.4" font-size="12" fill="#111" textLength="29.0" lengthAdjust="spacingAndGlyphs">K562</text>
<text transform="translate(264.90,482.67) rotate(-90)" font-size="10.61" fill="#222" textLength="34.55" lengthAdjust="spacingAndGlyphs">DNase I</text>
<text transform="translate(265.00,445.05) rotate(-90)" font-size="10.61" fill="#222" textLength="74.68" lengthAdjust="spacingAndGlyphs">Hypersensitivity</text>
</svg></body></html>
